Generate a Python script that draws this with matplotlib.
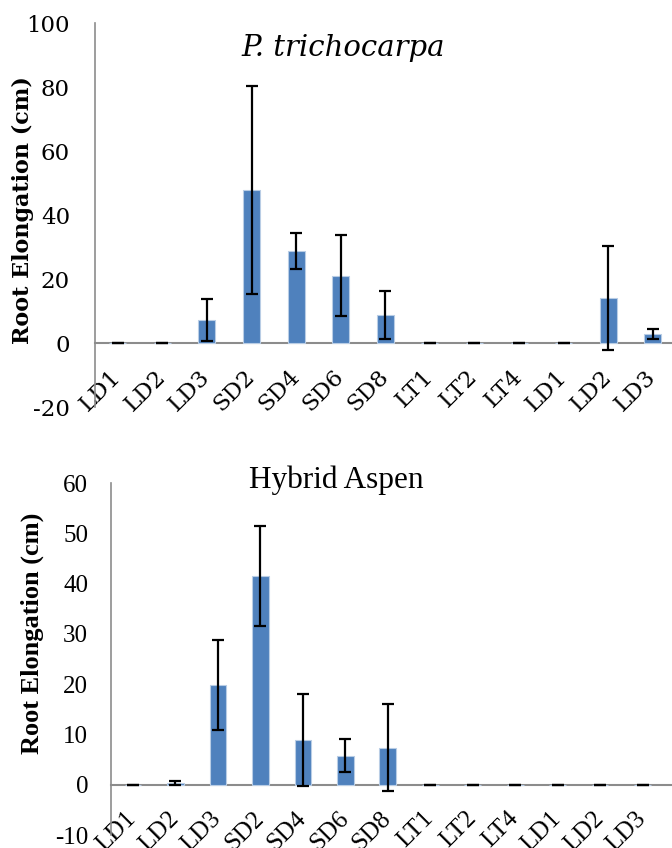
import matplotlib
matplotlib.use("Agg")
import matplotlib.pyplot as plt

categories = ["LD1", "LD2", "LD3", "SD2", "SD4", "SD6", "SD8", "LT1", "LT2", "LT4", "LD1", "LD2", "LD3"]

tri_values = [0, 0, 7.3, 47.7, 28.8, 21.0, 8.7, 0, 0, 0, 0, 14.1, 2.8]
tri_errors = [0, 0, 6.6, 32.5, 5.6, 12.6, 7.5, 0, 0, 0, 0, 16.2, 1.7]
tri_yticks = [-20, 0, 20, 40, 60, 80, 100]

asp_values = [0, 0.3, 19.8, 41.5, 8.9, 5.8, 7.4, 0, 0, 0, 0, 0, 0]
asp_errors = [0, 0.35, 8.9, 9.9, 9.1, 3.3, 8.6, 0, 0, 0, 0, 0, 0]
asp_yticks = [-10, 0, 10, 20, 30, 40, 50, 60]

BAR = "#4f81bd"
EDGE = "#b9cde5"
AXC = "#8c8c8c"

W, H = 672, 848
fig = plt.figure(figsize=(W / 100, H / 100), dpi=100)


def px_axes(left, right, top, bottom):
    return fig.add_axes([left / W, 1 - bottom / H, (right - left) / W, (bottom - top) / H])


def style(ax, yticks, font, ytick_size, xtick_size, xlim, ypad, xpad):
    for s in ["top", "right"]:
        ax.spines[s].set_visible(False)
    ax.spines["bottom"].set_position(("data", 0))
    ax.spines["left"].set_color(AXC)
    ax.spines["left"].set_linewidth(1.2)
    ax.spines["bottom"].set_color(AXC)
    ax.spines["bottom"].set_linewidth(1.5)
    ax.spines["bottom"].set_zorder(1)
    x = list(range(len(categories)))
    ax.set_xlim(*xlim)
    ax.set_ylim(yticks[0], yticks[-1])
    ax.set_yticks(yticks)
    ax.set_yticklabels([str(t) for t in yticks], fontsize=ytick_size, family=font)
    ax.set_xticks(x)
    ax.set_xticklabels(categories, rotation=45, ha="right", va="center",
                       rotation_mode="anchor", fontsize=xtick_size, family=font)
    ax.tick_params(axis="y", length=0, pad=ypad)
    ax.tick_params(axis="x", length=0, pad=xpad)
    ax.patch.set_alpha(0)


x = list(range(len(categories)))

# Top chart
ax1 = px_axes(95, 672, 23, 407)
style(ax1, tri_yticks, "DejaVu Serif", 16.5, 16.5, (-0.51, 12.43), 18, 22)
ax1.bar(x, tri_values, width=0.38, color=BAR, edgecolor=EDGE, linewidth=0.8, zorder=2)
ax1.errorbar(x, tri_values, yerr=tri_errors, fmt="none", ecolor="black",
             elinewidth=1.6, capsize=4.5, capthick=1.6, zorder=3)
ax1.set_ylabel("Root Elongation (cm)", fontsize=16, fontweight="bold",
               family="DejaVu Serif")
ax1.yaxis.set_label_coords(-(95 - 34) / 577, (407 - 210) / 384)
fig.text(343 / W, 1 - 48 / H, "P. trichocarpa", ha="center", va="center",
         fontsize=21, style="italic", family="DejaVu Serif")

# Bottom chart
ax2 = px_axes(111, 672, 483, 835)
style(ax2, asp_yticks, "Liberation Serif", 18, 18, (-0.515, 12.69), 16.5, 22)
ax2.bar(x, asp_values, width=0.39, color=BAR, edgecolor=EDGE, linewidth=0.8, zorder=2)
ax2.errorbar(x, asp_values, yerr=asp_errors, fmt="none", ecolor="black",
             elinewidth=1.6, capsize=4.5, capthick=1.6, zorder=3)
ax2.set_ylabel("Root Elongation (cm)", fontsize=19, fontweight="bold",
               family="Liberation Serif")
ax2.yaxis.set_label_coords(-(111 - 44) / 561, (835 - 633) / 352)
fig.text(336 / W, 1 - 480 / H, "Hybrid Aspen", ha="center", va="center",
         fontsize=22.5, family="Liberation Serif")

fig.savefig("out.png", dpi=100)
